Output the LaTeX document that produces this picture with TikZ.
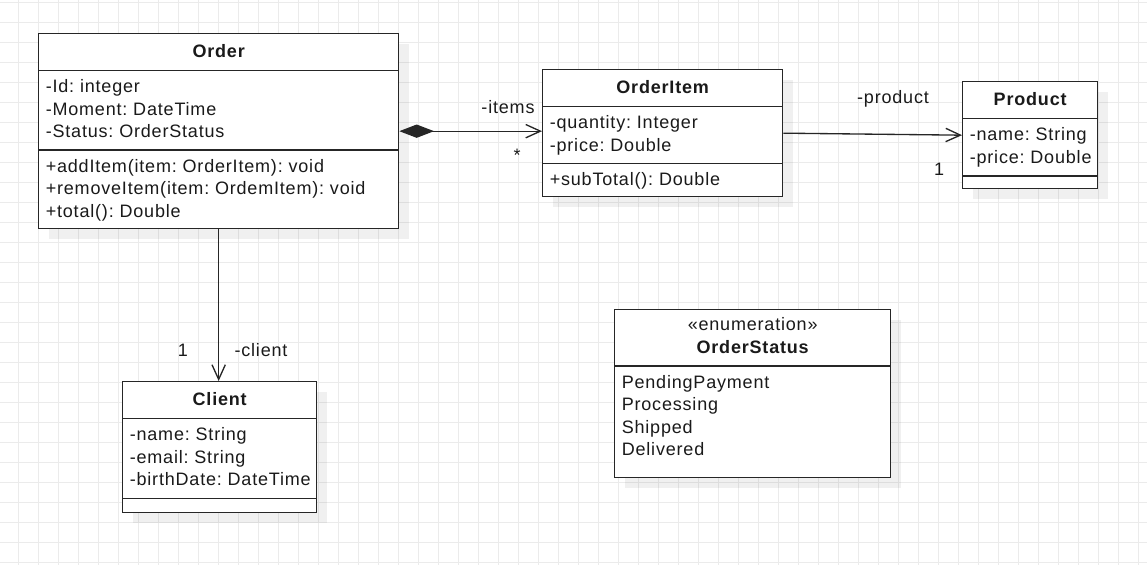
\documentclass[tikz,border=0pt]{standalone}
\usepackage{fontspec}
\setmainfont{Liberation Sans}[LetterSpace=4.5]
\usepackage{tikz}
\usetikzlibrary{calc, arrows.meta, shadows}
\definecolor{umlline}{HTML}{262626}
\definecolor{umltext}{HTML}{1A1A1A}
\definecolor{gridgray}{HTML}{EBEBEB}
\newcommand{\umlfont}{\fontsize{13.5pt}{16.875pt}\selectfont\frenchspacing}
\tikzstyle{gridline} = [draw=gridgray, line width=0.75pt]
\tikzstyle{umlclass} = [draw=umlline, line width=1pt, fill=white, inner sep=0pt, anchor=north west,
  drop shadow={shadow xshift=7.5pt, shadow yshift=-7.5pt, fill=black, opacity=0.06}]
\tikzstyle{umlsep} = [draw=umlline, line width=1pt]
\tikzstyle{classname} = [inner sep=0pt, font=\umlfont\bfseries, text=umltext]
\tikzstyle{members} = [anchor=north west, inner sep=0pt, align=left, font=\umlfont, text=umltext]
\tikzstyle{role} = [inner sep=0pt, font=\umlfont, text=umltext]
\tikzstyle{assoc} = [draw=umlline, line width=1pt, -{Straight Barb[length=11pt,width=10pt]}]
\tikzstyle{compo} = [draw=umlline, line width=1pt, {Diamond[length=26pt,width=10pt]}-{Straight Barb[length=11pt,width=10pt]}]

\begin{document}
\begin{tikzpicture}[x=0.75pt, y=-0.75pt]
  \useasboundingbox (0,0) rectangle (1147,565);
  % background grid
  \foreach \gx in {18,38,...,1138} \draw[gridline] (\gx,0) -- (\gx,565);
  \foreach \gy in {2,22,...,562} \draw[gridline] (0,\gy) -- (1147,\gy);

  % Order
  \node[umlclass, minimum width=270pt, minimum height=146.25pt] (order) at (38,33) {};
  \draw[umlsep] ($(order.north west)+(0,37.5)$) -- ($(order.north east)+(0,37.5)$);
  \draw[umlsep] ($(order.north west)+(0,117)$) -- ($(order.north east)+(0,117)$);
  \node[classname] (ordername) at ($(order.north)+(0,18.5)$) {Order};
  \node[members] (orderattr) at ($(order.north west)+(7.5,43.5)$)
    {\strut-Id: integer\\-Moment: DateTime\\-Status: OrderStatus};
  \node[members] (ordermeth) at ($(order.north west)+(7.5,123)$)
    {\strut+addItem(item: OrderItem): void\\+removeItem(item: OrdemItem): void\\+total(): Double};

  % OrderItem
  \node[umlclass, minimum width=180pt, minimum height=95.25pt] (orderitem) at (542,69) {};
  \draw[umlsep] ($(orderitem.north west)+(0,37.5)$) -- ($(orderitem.north east)+(0,37.5)$);
  \draw[umlsep] ($(orderitem.north west)+(0,94.5)$) -- ($(orderitem.north east)+(0,94.5)$);
  \node[classname] (orderitemname) at ($(orderitem.north)+(0,18.5)$) {OrderItem};
  \node[members] (orderitemattr) at ($(orderitem.north west)+(7.5,43.5)$)
    {\strut-quantity: Integer\\-price: Double};
  \node[members] (orderitemmeth) at ($(orderitem.north west)+(7.5,100.5)$)
    {\strut+subTotal(): Double};

  % Product
  \node[umlclass, minimum width=101.25pt, minimum height=80.25pt] (product) at (962,81) {};
  \draw[umlsep] ($(product.north west)+(0,37.5)$) -- ($(product.north east)+(0,37.5)$);
  \draw[umlsep] ($(product.north west)+(0,95)$) -- ($(product.north east)+(0,95)$);
  \node[classname] (productname) at ($(product.north)+(0,18.5)$) {Product};
  \node[members] (productattr) at ($(product.north west)+(7.5,43.5)$)
    {\strut-name: String\\-price: Double};

  % Client
  \node[umlclass, minimum width=145.5pt, minimum height=98.25pt] (client) at (122,381) {};
  \draw[umlsep] ($(client.north west)+(0,37.5)$) -- ($(client.north east)+(0,37.5)$);
  \draw[umlsep] ($(client.north west)+(0,117.5)$) -- ($(client.north east)+(0,117.5)$);
  \node[classname] (clientname) at ($(client.north)+(0,18.5)$) {Client};
  \node[members] (clientattr) at ($(client.north west)+(7.5,43.5)$)
    {\strut-name: String\\-email: String\\-birthDate: DateTime};

  % OrderStatus
  \node[umlclass, minimum width=207pt, minimum height=126pt] (orderstatus) at (614,309) {};
  \draw[umlsep] ($(orderstatus.north west)+(0,57)$) -- ($(orderstatus.north east)+(0,57)$);
  \node[role, anchor=base] (stereotype) at ($(orderstatus.north)+(0,21)$) {«enumeration»};
  \node[classname, anchor=base] (orderstatusname) at ($(orderstatus.north)+(0,44.3)$) {OrderStatus};
  \node[members] (orderstatusvals) at ($(orderstatus.north west)+(7.5,63)$)
    {\strut PendingPayment\\Processing\\Shipped\\Delivered};

  % associations
  \draw[compo] (order.east) -- (order.east -| orderitem.west);
  \draw[assoc] (orderitem.east) -- (product.west);
  \draw[assoc] (order.south) -- (order.south |- client.north);

  \node[role] (itemsrole) at (508,107) {-items};
  \node[role] (itemsmult) at (517,155) {*};
  \node[role] (productrole) at (893,99) {-product};
  \node[role] (productmult) at (939,169) {1};
  \node[role] (clientmult) at (183,350) {1};
  \node[role] (clientrole) at (261,350) {-client};
\end{tikzpicture}
\end{document}
